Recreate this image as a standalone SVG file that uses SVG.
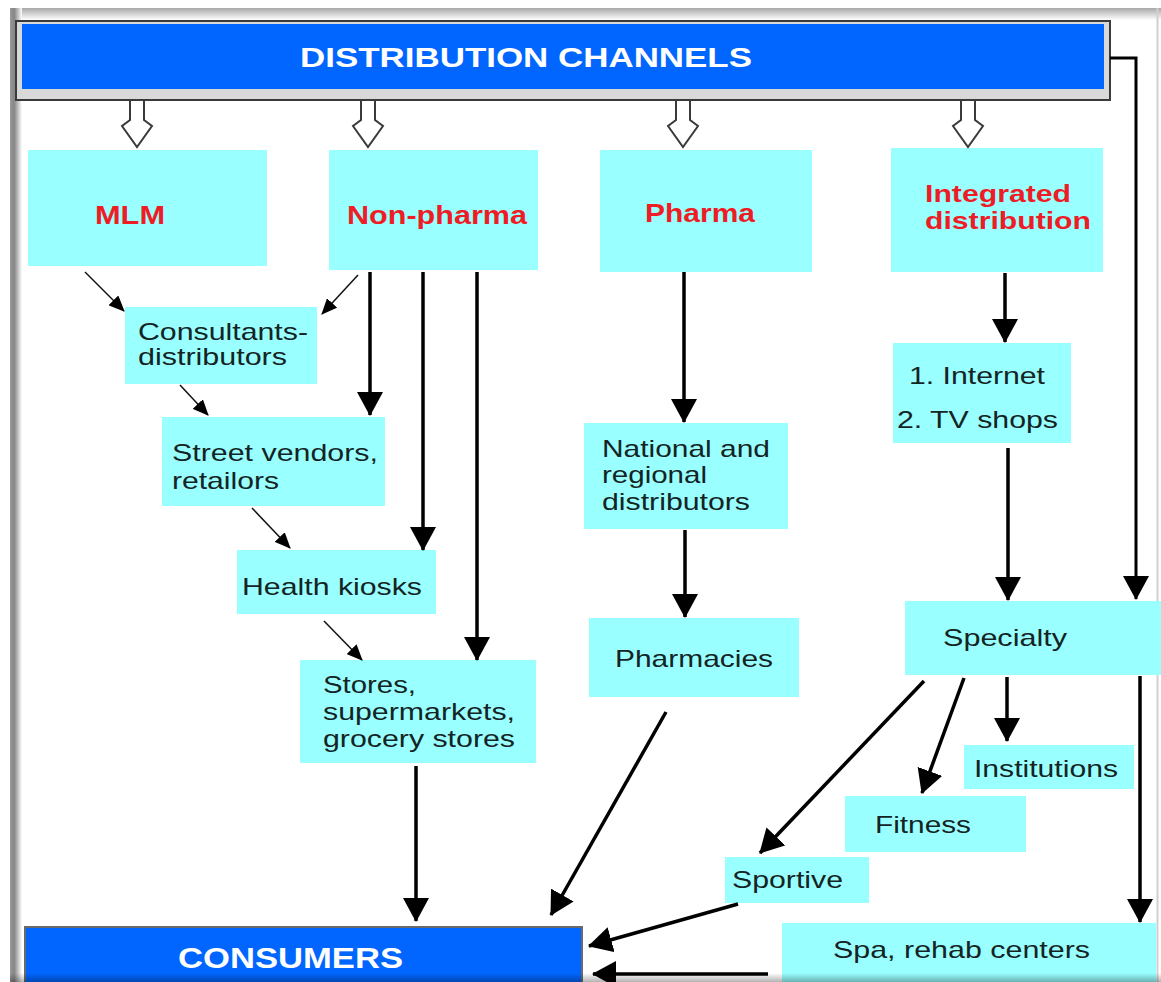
<svg xmlns="http://www.w3.org/2000/svg" width="1161" height="982" viewBox="0 0 1161 982">
<style>
.box{fill:#99ffff}
.lbl{font-family:"Liberation Sans",Arial,sans-serif;font-size:24px;fill:#142424}
.red{font-family:"Liberation Sans",Arial,sans-serif;font-weight:bold;font-size:26px;fill:#ee1c24}
.hdr{font-family:"Liberation Sans",Arial,sans-serif;font-weight:bold;fill:#ffffff}
.thick{stroke:#000;stroke-width:3.5;fill:none;marker-end:url(#ah)}
.thin{stroke:#111;stroke-width:1.5;fill:none;marker-end:url(#ahs)}
.hollow{fill:#ffffff;stroke:#3a3a3a;stroke-width:2;stroke-linejoin:miter}
</style>
<defs>
<marker id="ah" markerUnits="userSpaceOnUse" viewBox="0 0 24 26" markerWidth="24" markerHeight="26" refX="23" refY="13" orient="auto">
<path d="M0,0 L24,13 L0,26 Z" fill="#000"/>
</marker>
<marker id="ahs" markerUnits="userSpaceOnUse" viewBox="0 0 16 14" markerWidth="16" markerHeight="14" refX="15" refY="7" orient="auto">
<path d="M0,0 L16,7 L0,14 Z" fill="#000"/>
</marker>
<polygon id="hol" points="-7,0 7,0 7,20 15,26 0,47 -15,26 -7,20"/>
<linearGradient id="gLeft" x1="0" y1="0" x2="1" y2="0">
<stop offset="0" stop-color="#9a9a9a"/><stop offset="0.35" stop-color="#858585"/><stop offset="1" stop-color="#ffffff"/>
</linearGradient>
<linearGradient id="gTop" x1="0" y1="0" x2="0" y2="1">
<stop offset="0" stop-color="#a8a8a8"/><stop offset="1" stop-color="#ffffff"/>
</linearGradient>
<linearGradient id="gBot" x1="0" y1="0" x2="0" y2="1">
<stop offset="0" stop-color="#000" stop-opacity="0"/><stop offset="1" stop-color="#000" stop-opacity="0.3"/>
</linearGradient>
</defs>
<rect x="0" y="0" width="1161" height="982" fill="#ffffff"/>
<g id="frame">
<rect x="10" y="8" width="1151" height="12" fill="url(#gTop)"/>
<rect x="10" y="8" width="12" height="974" fill="url(#gLeft)"/>
<line x1="1157.5" y1="8" x2="1157.5" y2="982" stroke="#d0d0d0" stroke-width="2"/>
</g>
<g id="header">
<rect x="16" y="21" width="1094" height="79" fill="#d9d9d9" stroke="#3a3a3a" stroke-width="2"/>
<rect x="22" y="24" width="1082" height="65" fill="#0066ff"/>
<text class="hdr" x="300" y="67" font-size="28" textLength="452" lengthAdjust="spacingAndGlyphs">DISTRIBUTION CHANNELS</text>
</g>
<g id="mlm"><rect class="box" x="28" y="150" width="239" height="116"/>
<text class="red" x="95" y="224" textLength="70" lengthAdjust="spacingAndGlyphs">MLM</text></g>
<g id="nonpharma"><rect class="box" x="329" y="150" width="209" height="120"/>
<text class="red" x="347" y="224" textLength="180" lengthAdjust="spacingAndGlyphs">Non-pharma</text></g>
<g id="pharma"><rect class="box" x="600" y="150" width="212" height="122"/>
<text class="red" x="645" y="222" textLength="110" lengthAdjust="spacingAndGlyphs">Pharma</text></g>
<g id="integrated"><rect class="box" x="891" y="148" width="212" height="124"/>
<text class="red" style="font-size:24px" x="925" y="202" textLength="146" lengthAdjust="spacingAndGlyphs">Integrated</text>
<text class="red" style="font-size:24px" x="925" y="229" textLength="166" lengthAdjust="spacingAndGlyphs">distribution</text></g>
<g id="consultants"><rect class="box" x="125" y="307" width="192" height="77"/>
<text class="lbl" x="138" y="340" textLength="170" lengthAdjust="spacingAndGlyphs">Consultants-</text>
<text class="lbl" x="138" y="365" textLength="149" lengthAdjust="spacingAndGlyphs">distributors</text></g>
<g id="street"><rect class="box" x="162" y="417" width="223" height="89"/>
<text class="lbl" x="172" y="461" textLength="206" lengthAdjust="spacingAndGlyphs">Street vendors,</text>
<text class="lbl" x="172" y="489" textLength="107" lengthAdjust="spacingAndGlyphs">retailors</text></g>
<g id="kiosks"><rect class="box" x="237" y="550" width="199" height="64"/>
<text class="lbl" x="242" y="595" textLength="180" lengthAdjust="spacingAndGlyphs">Health kiosks</text></g>
<g id="stores"><rect class="box" x="300" y="660" width="236" height="103"/>
<text class="lbl" x="323" y="693" textLength="93" lengthAdjust="spacingAndGlyphs">Stores,</text>
<text class="lbl" x="323" y="720" textLength="192" lengthAdjust="spacingAndGlyphs">supermarkets,</text>
<text class="lbl" x="323" y="747" textLength="192" lengthAdjust="spacingAndGlyphs">grocery stores</text></g>
<g id="national"><rect class="box" x="584" y="423" width="204" height="106"/>
<text class="lbl" x="602" y="457" textLength="168" lengthAdjust="spacingAndGlyphs">National and</text>
<text class="lbl" x="602" y="483" textLength="105" lengthAdjust="spacingAndGlyphs">regional</text>
<text class="lbl" x="602" y="510" textLength="148" lengthAdjust="spacingAndGlyphs">distributors</text></g>
<g id="pharmacies"><rect class="box" x="589" y="618" width="210" height="79"/>
<text class="lbl" x="615" y="667" textLength="158" lengthAdjust="spacingAndGlyphs">Pharmacies</text></g>
<g id="internet"><rect class="box" x="893" y="343" width="178" height="100"/>
<text class="lbl" x="909" y="384" textLength="136" lengthAdjust="spacingAndGlyphs">1. Internet</text>
<text class="lbl" x="897" y="428" textLength="161" lengthAdjust="spacingAndGlyphs">2. TV shops</text></g>
<g id="specialty"><rect class="box" x="905" y="601" width="256" height="74"/>
<text class="lbl" x="943" y="646" textLength="124" lengthAdjust="spacingAndGlyphs">Specialty</text></g>
<g id="institutions"><rect class="box" x="964" y="745" width="170" height="44"/>
<text class="lbl" x="974" y="777" textLength="144" lengthAdjust="spacingAndGlyphs">Institutions</text></g>
<g id="fitness"><rect class="box" x="845" y="796" width="181" height="56"/>
<text class="lbl" x="875" y="833" textLength="96" lengthAdjust="spacingAndGlyphs">Fitness</text></g>
<g id="sportive"><rect class="box" x="725" y="857" width="144" height="46"/>
<text class="lbl" x="732" y="888" textLength="111" lengthAdjust="spacingAndGlyphs">Sportive</text></g>
<g id="spa"><rect class="box" x="782" y="923" width="374" height="59"/>
<text class="lbl" x="833" y="958" textLength="257" lengthAdjust="spacingAndGlyphs">Spa, rehab centers</text></g>
<g id="consumers">
<rect x="25" y="927" width="557" height="60" fill="#0066ff" stroke="#6a6a6a" stroke-width="2"/>
<text class="hdr" x="178" y="968" font-size="29" textLength="225" lengthAdjust="spacingAndGlyphs">CONSUMERS</text>
</g>
<g id="connectors">
<use href="#hol" class="hollow" transform="translate(137,100)"/>
<use href="#hol" class="hollow" transform="translate(368,100)"/>
<use href="#hol" class="hollow" transform="translate(683,100)"/>
<use href="#hol" class="hollow" transform="translate(968,100)"/>
<path class="thick" d="M370,272 V415"/>
<path class="thick" d="M423,272 V550"/>
<path class="thick" d="M477,272 V660"/>
<path class="thick" d="M684,272 V422"/>
<path class="thick" d="M685,530 V617"/>
<path class="thick" d="M1005,273 V342"/>
<path class="thick" d="M1008,448 V600"/>
<path class="thick" style="stroke-width:3" d="M1110,58 H1136 V599"/>
<path class="thick" d="M1140,676 V922"/>
<path class="thick" d="M416,766 V921"/>
<path class="thick" d="M666,712 L551,915"/>
<path class="thick" d="M924,681 L760,853"/>
<path class="thick" d="M964,678 L922,793"/>
<path class="thick" d="M1007,677 V741"/>
<path class="thick" d="M738,904 L589,946"/>
<path class="thick" d="M768,974 H593"/>
<path class="thin" d="M85,272 L124,311"/>
<path class="thin" d="M358,275 L322,314"/>
<path class="thin" d="M180,385 L208,415"/>
<path class="thin" d="M252,508 L290,548"/>
<path class="thin" d="M324,621 L362,660"/>
</g>
<rect x="10" y="973" width="1151" height="9" fill="url(#gBot)"/>
</svg>
